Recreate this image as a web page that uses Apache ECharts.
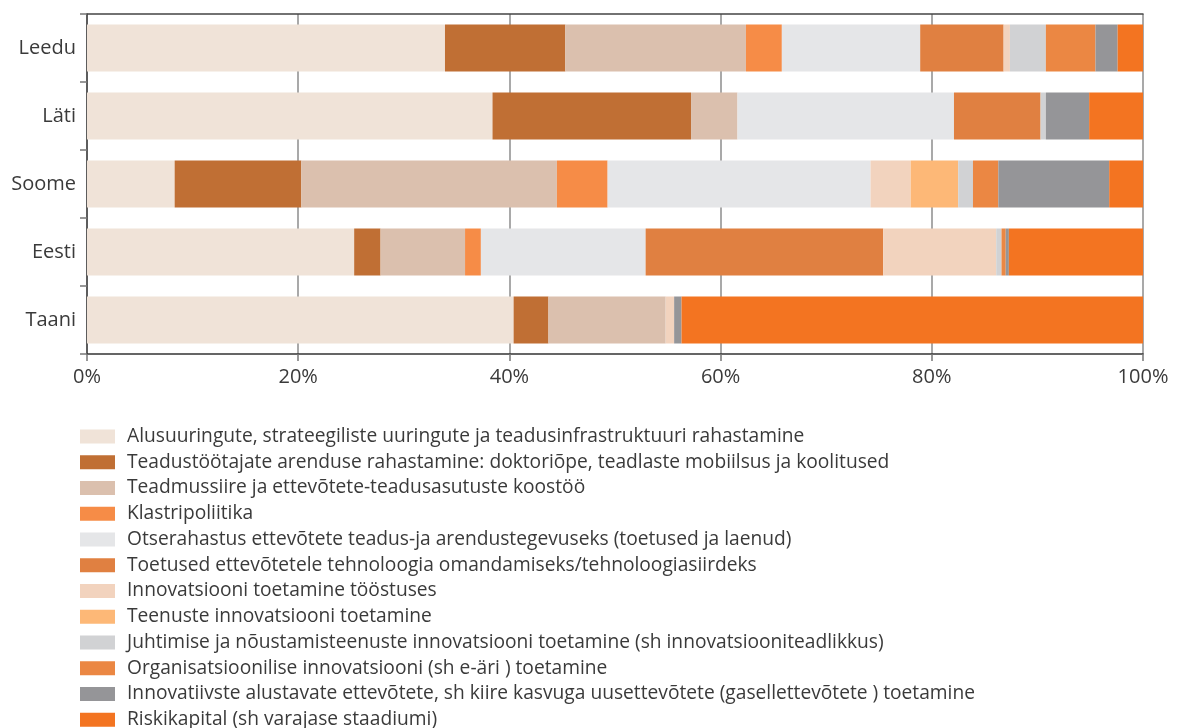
<!DOCTYPE html>
<html><head><meta charset="utf-8">
<script src="https://cdn.jsdelivr.net/npm/echarts@6/dist/echarts.min.js"></script>
<style>html,body{margin:0;padding:0;background:#fff}#c{width:1181px;height:728px}</style>
</head><body><div id="c"></div>
<script>
const categories = ["Leedu", "Läti", "Soome", "Eesti", "Taani"];
const seriesNames = [
  "Alusuuringute, strateegiliste uuringute ja teadusinfrastruktuuri rahastamine",
  "Teadustöötajate arenduse rahastamine: doktoriõpe, teadlaste mobiilsus ja koolitused",
  "Teadmussiire ja ettevõtete-teadusasutuste koostöö",
  "Klastripoliitika",
  "Otserahastus ettevõtete teadus-ja arendustegevuseks (toetused ja laenud)",
  "Toetused ettevõtetele tehnoloogia omandamiseks/tehnoloogiasiirdeks",
  "Innovatsiooni toetamine tööstuses",
  "Teenuste innovatsiooni toetamine",
  "Juhtimise ja nõustamisteenuste innovatsiooni toetamine (sh innovatsiooniteadlikkus)",
  "Organisatsioonilise innovatsiooni (sh e-äri ) toetamine",
  "Innovatiivste alustavate ettevõtete, sh kiire kasvuga uusettevõtete (gasellettevõtete ) toetamine",
  "Riskikapital (sh varajase staadiumi)"
];
// values per series, in category order [Leedu, Läti, Soome, Eesti, Taani] (% shares)
const alusuuringud   = [33.9, 38.4,  8.3, 25.3, 40.4];
const teadustootajad = [11.4, 18.8, 12.0,  2.5,  3.3];
const teadmussiire   = [17.1,  4.4, 24.2,  8.0, 11.1];
const klastripol     = [ 3.4,  0.0,  4.8,  1.5,  0.0];
const otserahastus   = [13.1, 20.5, 24.9, 15.6,  0.0];
const tehnoloogia    = [ 7.9,  8.2,  0.0, 22.5,  0.0];
const toostus        = [ 0.6,  0.0,  3.8, 10.7,  0.8];
const teenused       = [ 0.0,  0.0,  4.5,  0.0,  0.0];
const juhtimine      = [ 3.4,  0.5,  1.4,  0.5,  0.0];
const organisats     = [ 4.7,  0.0,  2.4,  0.4,  0.0];
const alustavad      = [ 2.1,  4.1, 10.5,  0.3,  0.7];
const riskikapital   = [ 2.4,  5.1,  3.2, 12.7, 43.7];
const xTicks = [0, 20, 40, 60, 80, 100];

const seriesData = [alusuuringud, teadustootajad, teadmussiire, klastripol, otserahastus, tehnoloogia,
  toostus, teenused, juhtimine, organisats, alustavad, riskikapital];
const colors = ["#F0E3D8", "#C06F34", "#DBC0AE", "#F68C47", "#E5E6E8", "#E08041",
  "#F2D3BE", "#FDB877", "#D1D2D4", "#EB8743", "#959598", "#F37421"];

const FONT = "Open Sans";
const chart = echarts.init(document.getElementById('c'));
chart.setOption({
  animation: false,
  color: colors,
  textStyle: { fontFamily: FONT },
  grid: { left: 87, right: 38, top: 14, bottom: 374, containLabel: false },
  legend: {
    orient: 'vertical', left: 75, top: 420, height: 340,
    itemWidth: 35, itemHeight: 14, itemGap: 2.75,
    icon: 'rect',
    data: seriesNames,
    textStyle: { fontFamily: FONT, fontSize: 19.2, color: '#3a3a3a', padding: [0, 0, 0, 7], lineHeight: 23 }
  },
  xAxis: [{
    type: 'value', min: 0, max: 100, interval: 20,
    axisLine: { show: true, lineStyle: { color: '#333', width: 1.5 } },
    axisTick: { show: true, length: 7, lineStyle: { color: '#777', width: 1.5 } },
    axisLabel: { formatter: v => xTicks.includes(v) ? v + '%' : '', fontSize: 20, color: '#3a3a3a', margin: 13, fontFamily: FONT },
    splitLine: { show: true, lineStyle: { color: '#8c8c8c', width: 1.5 } }
  }, {
    type: 'value', position: 'top', min: 0, max: 100, interval: 20,
    axisLine: { show: true, lineStyle: { color: '#444', width: 1.5 } },
    axisTick: { show: false }, axisLabel: { show: false }, splitLine: { show: false }
  }],
  yAxis: {
    type: 'category', inverse: true, data: categories,
    axisLine: { show: true, lineStyle: { color: '#444', width: 1.5 } },
    axisTick: { show: true, length: 7, lineStyle: { color: '#777', width: 1.5 } },
    axisLabel: { fontSize: 20, color: '#3a3a3a', margin: 11, fontFamily: FONT }
  },
  series: seriesData.map((d, i) => ({
    name: seriesNames[i], type: 'bar', stack: 'total', barWidth: 47,
    data: d, itemStyle: { color: colors[i] }
  }))
});
</script></body></html>
